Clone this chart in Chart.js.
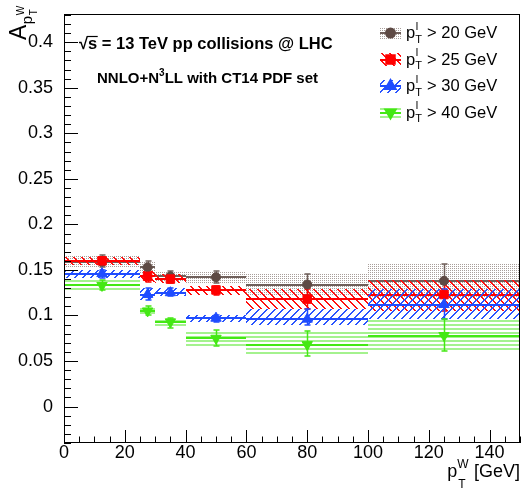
<!DOCTYPE html>
<html>
<head>
<meta charset="utf-8">
<script src="https://cdn.jsdelivr.net/npm/chart.js@4.4.0/dist/chart.umd.min.js"></script>
<style>
  html, body { margin: 0; padding: 0; background: #fff; }
</style>
</head>
<body>
<canvas id="apt_chart" width="528" height="491"></canvas>
<script>
// bins in pT^W [GeV]
var binEdges = [0, 25, 30, 40, 60, 100, 150];
var binCenters = [12.5, 27.5, 35, 50, 80, 125];
var xTicks = [0, 20, 40, 60, 80, 100, 120, 140];
var yTicks = [0, 0.05, 0.1, 0.15, 0.2, 0.25, 0.3, 0.35, 0.4];

// pT^l > 20 GeV
var pt20 = [0.159, 0.153, 0.143, 0.142, 0.134, 0.138];
var pt20Lo = [0.153, 0.147, 0.137, 0.136, 0.122, 0.120];
var pt20Hi = [0.166, 0.160, 0.149, 0.149, 0.146, 0.156];
// pT^l > 25 GeV
var pt25 = [0.160, 0.143, 0.140, 0.128, 0.118, 0.123];
var pt25Lo = [0.155, 0.137, 0.136, 0.123, 0.107, 0.105];
var pt25Hi = [0.164, 0.149, 0.145, 0.132, 0.129, 0.139];
// pT^l > 30 GeV
var pt30 = [0.146, 0.123, 0.125, 0.097, 0.096, 0.112];
var pt30Lo = [0.141, 0.117, 0.121, 0.093, 0.090, 0.096];
var pt30Hi = [0.150, 0.130, 0.130, 0.100, 0.107, 0.129];
// pT^l > 40 GeV
var pt40 = [0.133, 0.105, 0.093, 0.075, 0.068, 0.078];
var pt40Lo = [0.128, 0.100, 0.086, 0.067, 0.055, 0.061];
var pt40Hi = [0.139, 0.110, 0.097, 0.084, 0.083, 0.096];

var legendLabels = [' > 20 GeV', ' > 25 GeV', ' > 30 GeV', ' > 40 GeV'];

var FONT = '"Liberation Sans", Arial, Helvetica, sans-serif';

var series = [
    {val: pt20, lo: pt20Lo, hi: pt20Hi, hatch: 'dots', hatchColor: '#a89e9a', line: '#6f5f5a',
     color: '#5e4a44', marker: 'circle', radius: 4.5, rot: 0},
    {val: pt25, lo: pt25Lo, hi: pt25Hi, hatch: 'back', hatchColor: '#ff1010', line: '#ff0000',
     color: '#ff0000', marker: 'rect', radius: 6, rot: 0},
    {val: pt30, lo: pt30Lo, hi: pt30Hi, hatch: 'fwd', hatchColor: '#2a55ff', line: '#1f4cff',
     color: '#1f4cff', marker: 'triangle', radius: 6, rot: 0},
    {val: pt40, lo: pt40Lo, hi: pt40Hi, hatch: 'horiz', hatchColor: '#a4f28e', line: '#44e814',
     color: '#44e814', marker: 'triangle', radius: 6, rot: 180}
];

function makePattern(ctx, kind, color){
    var c = document.createElement('canvas');
    var g = c.getContext('2d');
    if (kind === 'dots') {
        c.width = 2; c.height = 2;
        g.fillStyle = color;
        g.fillRect(0, 0, 1, 1);
    } else if (kind === 'back') {
        c.width = 8; c.height = 8;
        g.fillStyle = color;
        for (var i = 0; i < 8; i++) { g.fillRect(i, i, 1, 1); g.fillRect((i + 1) % 8, i, 1, 1); }
    } else if (kind === 'fwd') {
        c.width = 8; c.height = 8;
        g.fillStyle = color;
        for (var j = 0; j < 8; j++) { g.fillRect(7 - j, j, 1, 1); g.fillRect((8 - j) % 8, j, 1, 1); }
    } else {
        c.width = 4; c.height = 4;
        g.fillStyle = color;
        g.fillRect(0, 0, 4, 2);
    }
    return ctx.createPattern(c, 'repeat');
}

function drawMarker(ctx, s, x, y){
    ctx.fillStyle = s.color;
    ctx.strokeStyle = s.color;
    Chart.helpers.drawPoint(ctx, {pointStyle: s.marker, radius: s.radius, rotation: s.rot, borderWidth: 1}, x, y);
}

// bands, bin lines and error bars
var bandPlugin = {
    id: 'bands',
    beforeDatasetsDraw: function(chart){
        var ctx = chart.ctx, a = chart.chartArea, xs = chart.scales.x, ys = chart.scales.y;
        ctx.save();
        ctx.beginPath();
        ctx.rect(a.left, a.top, a.right - a.left, a.bottom - a.top);
        ctx.clip();
        series.forEach(function(s){
            var pat = makePattern(ctx, s.hatch, s.hatchColor);
            s.val.forEach(function(v, i){
                var x0 = Math.round(xs.getPixelForValue(binEdges[i]));
                var x1 = Math.round(xs.getPixelForValue(binEdges[i + 1]));
                var yh = Math.round(ys.getPixelForValue(s.hi[i]));
                var yl = Math.round(ys.getPixelForValue(s.lo[i]));
                ctx.fillStyle = pat;
                ctx.fillRect(x0, yh, x1 - x0, yl - yh);
                var yv = Math.round(ys.getPixelForValue(v));
                ctx.strokeStyle = s.line;
                ctx.lineWidth = 2;
                ctx.beginPath();
                ctx.moveTo(x0, yv); ctx.lineTo(x1, yv);
                ctx.stroke();
                var xc = Math.round(xs.getPixelForValue(binCenters[i])) + 0.5;
                ctx.lineWidth = 1.5;
                ctx.beginPath();
                ctx.moveTo(xc, yh); ctx.lineTo(xc, yl);
                ctx.moveTo(xc - 3, yh); ctx.lineTo(xc + 3, yh);
                ctx.moveTo(xc - 3, yl); ctx.lineTo(xc + 3, yl);
                ctx.stroke();
            });
        });
        ctx.restore();
    }
};

function drawPtLabel(ctx, x, base, sup, sub, rest, big, small){
    ctx.font = big + 'px ' + FONT;
    ctx.fillText('p', x, base);
    var w = ctx.measureText('p').width;
    ctx.font = small + 'px ' + FONT;
    ctx.fillText(sup, x + w + 0.5, base - big * 0.5);
    ctx.fillText(sub, x + w, base + big * 0.3);
    var w2 = Math.max(ctx.measureText(sup).width, ctx.measureText(sub).width);
    ctx.font = big + 'px ' + FONT;
    ctx.fillText(rest, x + w + w2 + 0.5, base);
}

// frame, inward ticks, titles, legend
var framePlugin = {
    id: 'frame',
    afterDraw: function(chart){
        var ctx = chart.ctx, a = chart.chartArea, xs = chart.scales.x, ys = chart.scales.y;
        ctx.save();
        ctx.strokeStyle = '#000';
        ctx.lineWidth = 1;
        ctx.strokeRect(a.left + 0.5, a.top + 0.5, a.right - a.left - 1, a.bottom - a.top - 1);
        ctx.beginPath();
        for (var xv = 0; xv <= 150; xv += 5) {
            var px = Math.round(xs.getPixelForValue(xv)) + 0.5;
            var len = (xv % 20 === 0) ? 13 : 6.5;
            ctx.moveTo(px, a.bottom); ctx.lineTo(px, a.bottom - len);
        }
        for (var k = -4; k <= 43; k++) {
            var py = Math.round(ys.getPixelForValue(k / 100)) + 0.5;
            var ln = (k % 5 === 0) ? 14 : 7;
            ctx.moveTo(a.left, py); ctx.lineTo(a.left + ln, py);
        }
        ctx.stroke();

        ctx.fillStyle = '#000';
        ctx.textAlign = 'left';
        ctx.textBaseline = 'alphabetic';

        // x title
        ctx.font = '18px ' + FONT;
        var gw = ctx.measureText(' [GeV]').width;
        var xt = 520 - gw;
        ctx.fillText(' [GeV]', xt, 477);
        var pw = ctx.measureText('p').width;
        ctx.font = '12px ' + FONT;
        var ww = ctx.measureText('W').width;
        var px0 = xt - ww - pw - 0.5;
        ctx.font = '18px ' + FONT;
        ctx.fillText('p', px0, 477);
        ctx.font = '12px ' + FONT;
        ctx.fillText('W', px0 + pw, 468);
        ctx.fillText('T', px0 + pw + 1, 488);

        // y title
        ctx.save();
        ctx.translate(26, 40);
        ctx.rotate(-Math.PI / 2);
        ctx.font = '23px ' + FONT;
        ctx.fillText('A', 0, 0);
        var aw = ctx.measureText('A').width;
        ctx.font = '15px ' + FONT;
        ctx.fillText('p', aw + 0.5, 6);
        var pw2 = ctx.measureText('p').width;
        ctx.font = '10px ' + FONT;
        ctx.fillText('W', aw + pw2 + 1, -2);
        ctx.fillText('T', aw + pw2 + 1, 11);
        ctx.restore();

        // labels on the plot
        ctx.font = 'bold 16.5px ' + FONT;
        ctx.fillText('\u221A', 79, 49);
        var sq = ctx.measureText('\u221A').width;
        ctx.fillText('s = 13 TeV pp collisions @ LHC', 79 + sq, 49);
        var sw = ctx.measureText('s').width;
        ctx.lineWidth = 1.2;
        ctx.beginPath();
        ctx.moveTo(79 + sq - 1, 36.5); ctx.lineTo(79 + sq + sw + 0.5, 36.5);
        ctx.stroke();

        ctx.font = 'bold 15px ' + FONT;
        ctx.fillText('NNLO+N', 97, 83);
        var nw = ctx.measureText('NNLO+N').width;
        ctx.font = 'bold 10px ' + FONT;
        ctx.fillText('3', 97 + nw, 76);
        var tw = ctx.measureText('3').width;
        ctx.font = 'bold 15px ' + FONT;
        ctx.fillText('LL with CT14 PDF set', 97 + nw + tw, 83);

        // legend
        var rows = [33, 59.5, 86, 112.5];
        series.forEach(function(s, i){
            var ry = rows[i];
            ctx.fillStyle = makePattern(ctx, s.hatch, s.hatchColor);
            ctx.fillRect(380, Math.round(ry - 6.5), 21, 13);
            ctx.strokeStyle = s.line;
            ctx.lineWidth = 2;
            ctx.beginPath();
            ctx.moveTo(380, Math.round(ry)); ctx.lineTo(401, Math.round(ry));
            ctx.stroke();
            drawMarker(ctx, s, 390.5, ry);
            ctx.fillStyle = '#000';
            drawPtLabel(ctx, 406, ry + 5, 'l', 'T', legendLabels[i], 16.5, 11);
        });
        ctx.restore();
    }
};

var datasets = series.map(function(s, k){
    return {
        data: binCenters.map(function(c, i){ return {x: c, y: s.val[i]}; }),
        pointStyle: s.marker,
        pointRadius: s.radius,
        rotation: s.rot,
        backgroundColor: s.color,
        borderColor: s.color,
        borderWidth: 1,
        showLine: false,
        order: 4 - k
    };
});

var tickFont = {family: FONT, size: 18};

var config_apt = {
    type: 'scatter',
    data: {datasets: datasets},
    options: {
        responsive: false,
        animation: false,
        devicePixelRatio: 1,
        layout: {padding: {top: 14, right: 8, left: 0, bottom: 0}},
        plugins: {legend: {display: false}, tooltip: {enabled: false}},
        scales: {
            x: {
                type: 'linear', min: 0, max: 150,
                grid: {display: false}, border: {display: false},
                afterBuildTicks: function(s){ s.ticks = xTicks.map(function(v){ return {value: v}; }); },
                afterFit: function(s){ s.height = 48; },
                ticks: {font: tickFont, color: '#000', padding: -9, maxRotation: 0, autoSkip: false,
                        callback: function(v){ return String(v); }}
            },
            y: {
                type: 'linear', min: -0.04, max: 0.431,
                grid: {display: false}, border: {display: false},
                afterBuildTicks: function(s){ s.ticks = yTicks.map(function(v){ return {value: v}; }); },
                afterFit: function(s){ s.width = 64; },
                ticks: {font: tickFont, color: '#000', padding: 3, autoSkip: false,
                        callback: function(v){ return String(+Number(v).toFixed(2)); }}
            }
        }
    },
    plugins: [bandPlugin, framePlugin]
};

var apt_chart = new Chart(document.getElementById('apt_chart'), config_apt);
</script>
</body>
</html>
